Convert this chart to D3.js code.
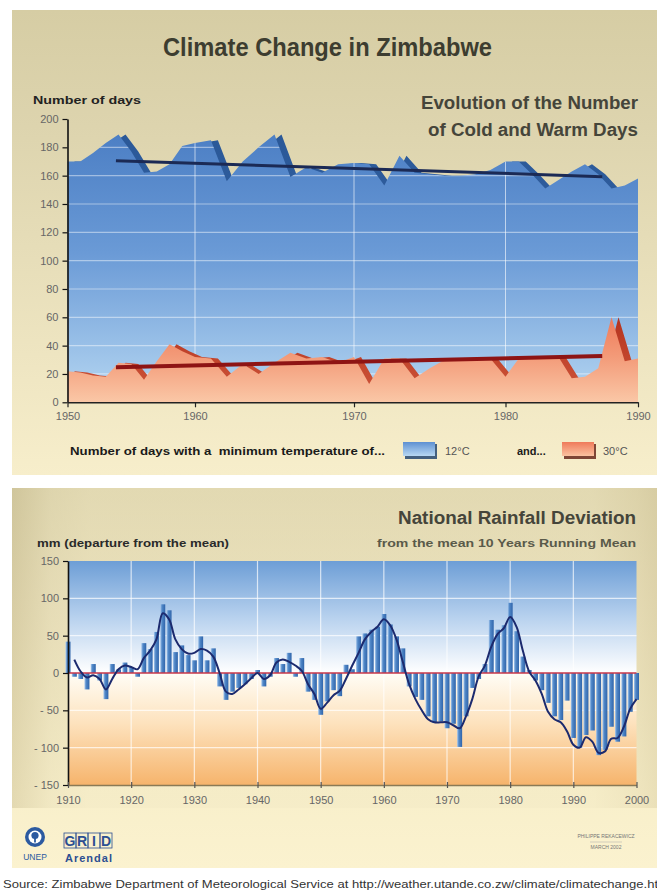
<!DOCTYPE html>
<html>
<head>
<meta charset="utf-8">
<script src="https://cdn.jsdelivr.net/npm/d3@7"></script>
<style>
html, body { margin: 0; padding: 0; background: #ffffff; }
svg { display: block; }
text { font-family: "Liberation Sans", Arial, sans-serif; }
</style>
</head>
<body>
<svg id="chart" width="657" height="896"></svg>
<script>
// ---- Cold and warm days per year, 1950-1990 ----
const dayYears = d3.range(1950, 1991);
const coldDays = [
  170, 170, 176, 183, 189, 177, 162, 163, 168, 181,
  183, 185, 156, 170, 180, 189, 159, 166, 162, 168,
  169, 168, 153, 174, 162, 161, 160, 160, 161, 164,
  170, 170, 161, 151, 157, 163, 168, 161, 151, 153,
  158
];
const warmDays = [
  22, 21, 19, 18, 28, 27, 16, 29, 41, 36,
  32, 31, 18, 27, 20, 28, 35, 31, 32, 28,
  32, 13, 31, 31, 17, 24, 30, 31, 31, 31,
  18, 31, 31, 32, 32, 17, 18, 24, 60, 29,
  31
];
// linear trends (start and end points)
const trendYears = [1953.8, 1987.3];
const coldTrend = [170.6, 159.3];
const warmTrend = [24.7, 32.7];
const dayTicksY = d3.range(0, 201, 20);
const dayTicksX = [1950, 1960, 1970, 1980, 1990];

// ---- National rainfall deviation (mm), 1910-2000 ----
const rainYears = d3.range(1910, 2001);
const rainfall = [
  42, -5, -8, -22, 12, -10, -35, 12, 5, 14,
  8, -5, 40, 32, 55, 92, 84, 28, 37, 24,
  17, 49, 17, 33, -18, -36, -25, -20, -15, -8,
  4, -18, -5, 20, 12, 27, -5, 20, -25, -36,
  -56, -38, -23, -31, 11, 5, 49, 53, 58, 62,
  79, 65, 49, 33, -18, -32, -36, -58, -67, -65,
  -74, -68, -99, -58, -20, -8, 12, 71, 58, 64,
  94, 56, 22, 4, -10, -23, -40, -58, -63, -37,
  -87, -100, -83, -77, -110, -103, -72, -92, -85, -52,
  -36
];
const meanYears = d3.range(1911, 2001);
const runningMean = [
  18, 2, -6, -3, -8, -22, -8, 5, 10, 8,
  5, 20, 30, 45, 80, 72, 45, 32, 26, 27,
  32, 30, 22, 0, -25, -28, -22, -15, -7, 0,
  -8, -3, 14, 18, 15, 10, 3, -15, -28, -48,
  -40, -30, -24, -8, 10, 27, 45, 55, 62, 72,
  64, 45, 15, -15, -35, -50, -62, -66, -66, -66,
  -70, -74, -58, -35, -5, 10, 35, 52, 60, 75,
  62, 30, 2, -10, -28, -52, -62, -66, -78, -96,
  -100, -86, -92, -107, -105, -88, -87, -72, -48, -35
];
const rainTicksY = [-150, -100, -50, 0, 50, 100, 150];
const rainTicksX = d3.range(1910, 2001, 10);

const svg = d3.select("#chart");
const defs = svg.append("defs");

function linGrad(id, x1, y1, x2, y2, stops, units) {
  const g = defs.append("linearGradient").attr("id", id)
    .attr("x1", x1).attr("y1", y1).attr("x2", x2).attr("y2", y2);
  if (units) g.attr("gradientUnits", units);
  stops.forEach(s => g.append("stop").attr("offset", s[0]).attr("stop-color", s[1]));
  return g;
}

// panel backgrounds
linGrad("panelTop", 0, 0, 0, 1, [[0, "#d6cda4"], [0.25, "#ddd4ae"], [1, "#f7eecb"]]);
linGrad("panelBot", 0, 0, 0, 1, [[0, "#d5cca3"], [0.3, "#e3d9b3"], [0.8, "#f8efca"], [1, "#fbf2cf"]]);
linGrad("sideShade", 0, 0, 1, 0, [[0, "#c9bd91"], [0.06, "#e8dfb9"], [0.12, "#f2e9c4"], [0.9, "#f2e9c4"], [0.97, "#e4d9b0"], [1, "#d9cda2"]]);

// cold / warm fills
linGrad("coldFill", 0, 130, 0, 402, [[0, "#4b7ec4"], [0.45, "#6a9ad6"], [1, "#b6d7f2"]], "userSpaceOnUse");
linGrad("coldEdge", 0, 130, 0, 402, [[0, "#2a5898"], [1, "#3c6aa8"]], "userSpaceOnUse");
linGrad("warmFill", 0, 310, 0, 402, [[0, "#ee7454"], [0.5, "#f39a78"], [1, "#fac7a6"]], "userSpaceOnUse");
linGrad("warmEdge", 0, 310, 0, 402, [[0, "#b2301c"], [1, "#d0583c"]], "userSpaceOnUse");
linGrad("legCold", 0, 0, 0, 1, [[0, "#5d90d2"], [1, "#b8d8f2"]]);
linGrad("legWarm", 0, 0, 0, 1, [[0, "#ef7a5a"], [1, "#fac2a0"]]);

// rainfall background
linGrad("rainUp", 0, 561, 0, 673, [[0, "#6d9ed6"], [0.5, "#b7d1ee"], [1, "#ffffff"]], "userSpaceOnUse");
linGrad("rainDown", 0, 673, 0, 785, [[0, "#fffdf6"], [0.45, "#fde2bd"], [1, "#f6b46c"]], "userSpaceOnUse");
linGrad("barFill", 0, 0, 1, 0, [[0, "#a8c8ec"], [0.35, "#5188c8"], [1, "#2f64aa"]]);

// ---------- panels ----------
svg.append("rect").attr("x", 12).attr("y", 10).attr("width", 645).attr("height", 465).attr("fill", "url(#panelTop)");
svg.append("rect").attr("x", 12).attr("y", 488).attr("width", 645).attr("height", 380).attr("fill", "url(#panelBot)");
svg.append("rect").attr("x", 12).attr("y", 488).attr("width", 645).attr("height", 320)
  .attr("fill", "url(#sideShade)").attr("opacity", 0.45);

// ---------- titles ----------
svg.append("text").attr("x", 163).attr("y", 56).text("Climate Change in Zimbabwe")
  .attr("font-size", 25).attr("font-weight", "bold").attr("fill", "#3d3d30")
  .attr("textLength", 329).attr("lengthAdjust", "spacingAndGlyphs");

svg.append("text").attr("x", 421).attr("y", 109).text("Evolution of the Number")
  .attr("font-size", 18).attr("fill", "#45453a").attr("font-weight", "bold")
  .attr("textLength", 217).attr("lengthAdjust", "spacingAndGlyphs");
svg.append("text").attr("x", 428).attr("y", 136).text("of Cold and Warm Days")
  .attr("font-size", 18).attr("fill", "#45453a").attr("font-weight", "bold")
  .attr("textLength", 210).attr("lengthAdjust", "spacingAndGlyphs");
svg.append("text").attr("x", 33).attr("y", 104).text("Number of days")
  .attr("font-size", 11).attr("font-weight", "bold").attr("fill", "#222")
  .attr("textLength", 108).attr("lengthAdjust", "spacingAndGlyphs");

// ---------- top chart ----------
const xTop = d3.scaleLinear().domain(dayTicksX).range([67.5, 195, 354, 505.5, 638]);
const yTop = d3.scaleLinear().domain([0, 200]).range([402.3, 119]);

const topArea = (vals) => d3.area()
  .x((d, i) => xTop(dayYears[i]))
  .y0(yTop(0))
  .y1(d => yTop(d))(vals);

defs.append("clipPath").attr("id", "topPlot").append("rect")
  .attr("x", xTop(1950)).attr("y", 100).attr("width", xTop(1990) - xTop(1950)).attr("height", yTop(0) - 100);
defs.append("clipPath").attr("id", "coldClip").append("path").attr("d", topArea(coldDays));

const topG = svg.append("g");
// extruded edge of the cold area
topG.append("g").attr("clip-path", "url(#topPlot)")
  .append("path").attr("d", topArea(coldDays)).attr("fill", "url(#coldEdge)")
  .attr("transform", "translate(7,0)");
topG.append("path").attr("d", topArea(coldDays)).attr("fill", "url(#coldFill)");

// grid inside the cold area
const gridTop = topG.append("g").attr("clip-path", "url(#coldClip)");
gridTop.selectAll("line.h").data(dayTicksY.filter(d => d > 0)).join("line")
  .attr("x1", xTop(1950)).attr("x2", xTop(1990))
  .attr("y1", d => yTop(d)).attr("y2", d => yTop(d))
  .attr("stroke", "#ffffff").attr("stroke-opacity", 0.45).attr("stroke-width", 1.2);
gridTop.selectAll("line.v").data(dayTicksX.slice(1, -1)).join("line")
  .attr("x1", d => xTop(d)).attr("x2", d => xTop(d))
  .attr("y1", yTop(200)).attr("y2", yTop(0))
  .attr("stroke", "#ffffff").attr("stroke-opacity", 0.6).attr("stroke-width", 1);

// warm area with its extruded edge
topG.append("g").attr("clip-path", "url(#topPlot)")
  .append("path").attr("d", topArea(warmDays)).attr("fill", "url(#warmEdge)")
  .attr("transform", "translate(7,0)");
topG.append("path").attr("d", topArea(warmDays)).attr("fill", "url(#warmFill)");

// trend lines
const trendLine = (vals) => d3.line().x((d, i) => xTop(trendYears[i])).y(d => yTop(d))(vals);
topG.append("path").attr("d", trendLine(coldTrend)).attr("stroke", "#1b2a55")
  .attr("stroke-width", 3).attr("fill", "none");
topG.append("path").attr("d", trendLine(warmTrend)).attr("stroke", "#8e1414")
  .attr("stroke-width", 4).attr("fill", "none");

// axes
const styleAxis = (g, col) => {
  g.select(".domain").attr("stroke", col).attr("stroke-width", 1.6);
  g.selectAll(".tick line").attr("stroke", col).attr("stroke-width", 1.2);
  g.selectAll(".tick text").attr("fill", "#666").attr("font-size", 11)
    .attr("font-family", "'Liberation Sans', Arial, sans-serif");
};
svg.append("g").attr("transform", `translate(${xTop(1950)},0)`)
  .call(d3.axisLeft(yTop).tickValues(dayTicksY).tickSize(5).tickSizeOuter(0).tickPadding(4))
  .call(g => styleAxis(g, "#111"));
svg.append("g").attr("transform", `translate(0,${yTop(0)})`)
  .call(d3.axisBottom(xTop).tickValues(dayTicksX).tickFormat(d3.format("d")).tickSize(5).tickSizeOuter(0).tickPadding(5))
  .call(g => styleAxis(g, "#222"));

// legend
const legY = 455;
svg.append("text").attr("x", 70).attr("y", legY).text("Number of days with a  minimum temperature of...")
  .attr("font-size", 11).attr("font-weight", "bold").attr("fill", "#1a1a1a")
  .attr("textLength", 315).attr("lengthAdjust", "spacingAndGlyphs").style("white-space", "pre");
svg.append("rect").attr("x", 405).attr("y", 444).attr("width", 32).attr("height", 15).attr("fill", "#44607e");
svg.append("rect").attr("x", 403).attr("y", 442).attr("width", 32).attr("height", 14).attr("fill", "url(#legCold)");
svg.append("text").attr("x", 445).attr("y", legY).text("12°C").attr("font-size", 11).attr("fill", "#555");
svg.append("text").attr("x", 517).attr("y", legY).text("and...").attr("font-size", 11)
  .attr("font-weight", "bold").attr("fill", "#1a1a1a");
svg.append("rect").attr("x", 564).attr("y", 444).attr("width", 32).attr("height", 15).attr("fill", "#7e4636");
svg.append("rect").attr("x", 562).attr("y", 442).attr("width", 32).attr("height", 14).attr("fill", "url(#legWarm)");
svg.append("text").attr("x", 603).attr("y", legY).text("30°C").attr("font-size", 11).attr("fill", "#555");

// ---------- rainfall chart ----------
svg.append("text").attr("x", 398).attr("y", 524).text("National Rainfall Deviation")
  .attr("font-size", 18).attr("font-weight", "bold").attr("fill", "#45453a")
  .attr("textLength", 238).attr("lengthAdjust", "spacingAndGlyphs");
svg.append("text").attr("x", 377).attr("y", 547).text("from the mean 10 Years Running Mean")
  .attr("font-size", 11).attr("font-weight", "bold").attr("fill", "#5a5a4a")
  .attr("textLength", 259).attr("lengthAdjust", "spacingAndGlyphs");
svg.append("text").attr("x", 37).attr("y", 547).text("mm (departure from the mean)")
  .attr("font-size", 11).attr("font-weight", "bold").attr("fill", "#2a2a2a")
  .attr("textLength", 192).attr("lengthAdjust", "spacingAndGlyphs");

const xRain = d3.scaleLinear().domain([1910, 2000]).range([68, 636.5]);
const yRain = d3.scaleLinear().domain([-150, 150]).range([785, 561]);

const rg = svg.append("g");
rg.append("rect").attr("x", xRain(1910)).attr("y", yRain(150))
  .attr("width", xRain(2000) - xRain(1910)).attr("height", yRain(0) - yRain(150)).attr("fill", "url(#rainUp)");
rg.append("rect").attr("x", xRain(1910)).attr("y", yRain(0))
  .attr("width", xRain(2000) - xRain(1910)).attr("height", yRain(-150) - yRain(0)).attr("fill", "url(#rainDown)");

rg.selectAll("line.h").data([-100, -50, 50, 100]).join("line")
  .attr("x1", xRain(1910)).attr("x2", xRain(2000))
  .attr("y1", d => yRain(d)).attr("y2", d => yRain(d))
  .attr("stroke", "#ffffff").attr("stroke-opacity", 0.7).attr("stroke-width", 1.2);
rg.selectAll("line.v").data(rainTicksX.slice(1, -1)).join("line")
  .attr("x1", d => xRain(d)).attr("x2", d => xRain(d))
  .attr("y1", yRain(150)).attr("y2", yRain(-150))
  .attr("stroke", "#ffffff").attr("stroke-opacity", 0.7).attr("stroke-width", 1.2);

const barW = 5;
rg.selectAll("rect.bar").data(rainfall).join("rect").attr("class", "bar")
  .attr("x", (d, i) => xRain(rainYears[i]) - barW / 2)
  .attr("width", barW)
  .attr("y", d => yRain(Math.max(0, d)))
  .attr("height", d => Math.abs(yRain(d) - yRain(0)))
  .attr("fill", "url(#barFill)");

rg.append("line").attr("x1", xRain(1910)).attr("x2", xRain(2000))
  .attr("y1", yRain(0)).attr("y2", yRain(0)).attr("stroke", "#c8374a").attr("stroke-width", 1.6);

rg.append("path")
  .attr("d", d3.line().x((d, i) => xRain(meanYears[i])).y(d => yRain(d)).curve(d3.curveCatmullRom.alpha(0.5))(runningMean))
  .attr("fill", "none").attr("stroke", "#1c2a6e").attr("stroke-width", 2);

svg.append("g").attr("transform", `translate(${xRain(1910)},0)`)
  .call(d3.axisLeft(yRain).tickValues(rainTicksY).tickSize(5).tickSizeOuter(0).tickPadding(4)
    .tickFormat(d => d < 0 ? "- " + Math.abs(d) : String(d)))
  .call(g => styleAxis(g, "#111"));
const xAxR = svg.append("g").attr("transform", `translate(0,${yRain(-150)})`)
  .call(d3.axisBottom(xRain).tickValues(rainTicksX).tickFormat(d3.format("d")).tickSize(3).tickSizeOuter(0).tickPadding(8))
  .call(g => styleAxis(g, "#8a7a55"));
xAxR.select(".domain").attr("stroke-width", 1.4);
xAxR.selectAll(".tick line").attr("y1", -3).attr("stroke", "#555");

// ---------- footer ----------
const logo = svg.append("g");
logo.append("circle").attr("cx", 35).attr("cy", 837).attr("r", 10).attr("fill", "#2c5aa0");
logo.append("circle").attr("cx", 35).attr("cy", 837).attr("r", 6.5).attr("fill", "#ffffff");
logo.append("circle").attr("cx", 35).attr("cy", 835.5).attr("r", 3.6).attr("fill", "#2c5aa0");
logo.append("rect").attr("x", 34.1).attr("y", 836).attr("width", 1.8).attr("height", 6.5).attr("fill", "#2c5aa0");
logo.append("text").attr("x", 35).attr("y", 860).attr("text-anchor", "middle").text("UNEP")
  .attr("font-family", "'Liberation Serif', serif").attr("font-size", 8.5).attr("fill", "#2c5aa0");
const gridLetters = ["G", "R", "I", "D"];
logo.selectAll("rect.gl").data(gridLetters).join("rect")
  .attr("x", (d, i) => 64 + i * 12).attr("y", 833).attr("width", 12).attr("height", 15)
  .attr("fill", "none").attr("stroke", "#2c4f92").attr("stroke-width", 0.8);
logo.selectAll("text.gl").data(gridLetters).join("text")
  .attr("x", (d, i) => 70 + i * 12).attr("y", 846).attr("text-anchor", "middle").text(d => d)
  .attr("font-family", "'Liberation Serif', serif").attr("font-size", 14).attr("font-weight", "bold")
  .attr("fill", "#2c4f92");
logo.append("text").attr("x", 65).attr("y", 862).text("Arendal")
  .attr("font-family", "'Liberation Serif', serif").attr("font-size", 11).attr("font-weight", "bold")
  .attr("fill", "#2c4f92").attr("textLength", 47).attr("lengthAdjust", "spacing");

svg.append("text").attr("x", 606).attr("y", 838).attr("text-anchor", "middle").text("PHILIPPE REKACEWICZ")
  .attr("font-size", 5).attr("fill", "#777");
svg.append("line").attr("x1", 590).attr("x2", 622).attr("y1", 842).attr("y2", 842).attr("stroke", "#aaa").attr("stroke-width", 0.5);
svg.append("text").attr("x", 606).attr("y", 849).attr("text-anchor", "middle").text("MARCH 2002")
  .attr("font-size", 5).attr("fill", "#777");

svg.append("text").attr("x", 3).attr("y", 888)
  .text("Source: Zimbabwe Department of Meteorological Service at http://weather.utande.co.zw/climate/climatechange.htm")
  .attr("font-size", 11).attr("fill", "#333")
  .attr("textLength", 666).attr("lengthAdjust", "spacingAndGlyphs");
</script>
</body>
</html>
